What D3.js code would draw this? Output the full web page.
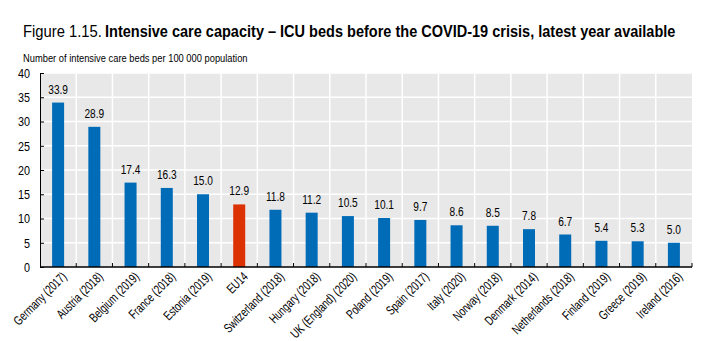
<!DOCTYPE html>
<html>
<head>
<meta charset="utf-8">
<script src="https://cdn.jsdelivr.net/npm/d3@7"></script>
<style>
  body { margin: 0; background: #fff; }
  text { font-family: "Liberation Sans", Arial, sans-serif; }
</style>
</head>
<body>
<div class="graphic"></div>
<script>
let countries = ["Germany (2017)", "Austria (2018)", "Belgium (2019)", "France (2018)", "Estonia (2019)",
                 "EU14", "Switzerland (2018)", "Hungary (2018)", "UK (England) (2020)", "Poland (2019)",
                 "Spain (2017)", "Italy (2020)", "Norway (2018)", "Denmark (2014)", "Netherlands (2018)",
                 "Finland (2019)", "Greece (2019)", "Ireland (2016)"];
let beds = [33.9, 28.9, 17.4, 16.3, 15.0, 12.9, 11.8, 11.2, 10.5, 10.1, 9.7, 8.6, 8.5, 7.8, 6.7, 5.4, 5.3, 5.0];
let yTicks = [0, 5, 10, 15, 20, 25, 30, 35, 40];
let highlight = "EU14";

let svg = d3.select(".graphic")
            .append("svg")
            .attr("width", 717)
            .attr("height", 341);

let plotL = 40, plotR = 692, plotT = 73, plotB = 267;

let x = d3.scaleBand().domain(countries).range([plotL, plotR]);
let y = d3.scaleLinear().domain([0, 40]).range([plotB, plotT]);

// squeeze text like a narrow font
function narrow(sel, f) {
    sel.each(function() {
        let w = this.getComputedTextLength();
        d3.select(this).attr("textLength", w * f).attr("lengthAdjust", "spacingAndGlyphs");
    });
}

// squeeze a text to a given width with a scale transform
function fitTo(sel, px, py, width) {
    let w = sel.node().getComputedTextLength();
    sel.attr("transform", `translate(${px},${py}) scale(${width / w},1)`);
}

// title, in two pieces
svg.append("text").attr("font-size", 17).attr("fill", "#000")
   .text("Figure 1.15.")
   .call(fitTo, 23, 37, 79);
svg.append("text").attr("font-size", 17).attr("fill", "#000")
   .attr("font-weight", "bold")
   .text("Intensive care capacity \u2013 ICU beds before the COVID-19 crisis, latest year available")
   .call(fitTo, 105, 37, 571);

svg.append("text").attr("font-size", 11).attr("fill", "#000")
   .text("Number of intensive care beds per 100 000 population")
   .call(fitTo, 23, 62, 225);

// plot background
svg.append("rect").attr("x", plotL).attr("y", plotT)
   .attr("width", plotR - plotL).attr("height", plotB - plotT).attr("fill", "#e8e8e8");

// horizontal gridlines
svg.selectAll("line.hgrid").data(yTicks.slice(1))
   .enter().append("line").attr("class", "hgrid")
   .attr("x1", plotL).attr("x2", plotR)
   .attr("y1", d => y(d)).attr("y2", d => y(d))
   .attr("stroke", "#fff").attr("stroke-width", 1.5);

// vertical gridlines at band edges
svg.selectAll("line.vgrid").data(countries.slice(1))
   .enter().append("line").attr("class", "vgrid")
   .attr("x1", d => x(d)).attr("x2", d => x(d))
   .attr("y1", plotT).attr("y2", plotB)
   .attr("stroke", "#fff").attr("stroke-width", 1.5);

// bars
let barW = 12;
svg.selectAll("rect.bar").data(countries)
   .enter().append("rect").attr("class", "bar")
   .attr("x", d => x(d) + x.bandwidth() / 2 - barW / 2)
   .attr("y", (d, i) => y(beds[i]))
   .attr("width", barW)
   .attr("height", (d, i) => plotB - y(beds[i]))
   .attr("fill", d => d === highlight ? "#dc3100" : "#006bb6");

// value labels
svg.selectAll("text.val").data(countries)
   .enter().append("text").attr("class", "val")
   .attr("x", d => x(d) + x.bandwidth() / 2)
   .attr("y", (d, i) => y(beds[i]) - 9)
   .attr("text-anchor", "middle").attr("font-size", 13.5).attr("fill", "#000")
   .text((d, i) => beds[i].toFixed(1))
   .call(narrow, 0.75);

// y axis
let yAxis = d3.axisLeft(y).tickValues(yTicks).tickSize(-4).tickPadding(10);
let gy = svg.append("g").attr("transform", `translate(${plotL},0)`).call(yAxis);
gy.selectAll("text").attr("font-size", 13.5).attr("fill", "#000").call(narrow, 0.8);
gy.select(".domain").attr("stroke", "#000");
gy.selectAll(".tick line").attr("stroke", "#000");

// x axis
let gx = svg.append("g").attr("transform", `translate(0,${plotB})`);
gx.append("line").attr("x1", plotL).attr("x2", plotR).attr("stroke", "#000").attr("stroke-width", 1.5);
gx.selectAll("line.xt").data(countries.slice(1).concat([null]))
  .enter().append("line").attr("class", "xt")
  .attr("x1", d => d === null ? plotR : x(d)).attr("x2", d => d === null ? plotR : x(d))
  .attr("y1", 0).attr("y2", -4).attr("stroke", "#000");
gx.selectAll("text").data(countries)
  .enter().append("text")
  .attr("transform", d => `translate(${x(d) + x.bandwidth() / 2 + 3},4) rotate(-45)`)
  .attr("text-anchor", "end").attr("dy", "0.7em")
  .attr("font-size", 13).attr("fill", "#000")
  .text(d => d)
  .call(narrow, 0.73);
</script>
</body>
</html>
